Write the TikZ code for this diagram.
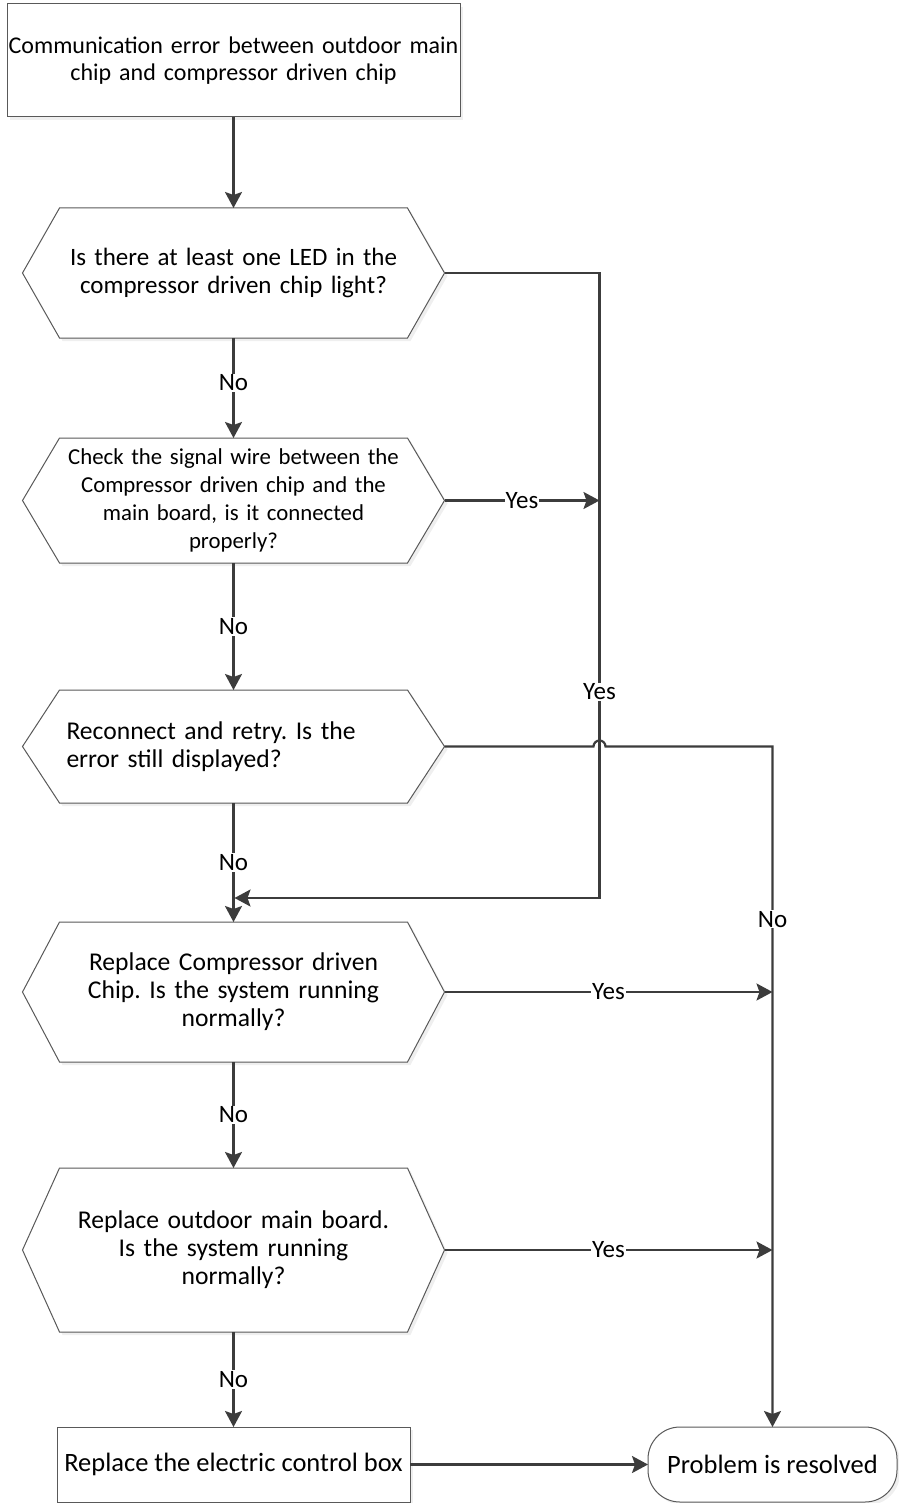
\documentclass[tikz,border=0pt]{standalone}
\usepackage{fontspec}
\setmainfont{Carlito}
\usetikzlibrary{arrows.meta, positioning, calc, backgrounds, shadows}
\definecolor{linegray}{HTML}{3C3C3C}
\definecolor{framegray}{HTML}{595959}
\frenchspacing
\newcommand{\flowfont}{\fontsize{25.6}{28}\selectfont\frenchspacing}
\newcommand{\bigflowfont}{\fontsize{26.5}{30}\selectfont\frenchspacing}
% hexagonal outline round a decision node
\newcommand{\hexframe}[1]{%
  \begin{scope}[on background layer]
    \draw[hexline] ([xshift=37pt]#1.north west) -- ([xshift=-37pt]#1.north east) -- (#1.east)
      -- ([xshift=-37pt]#1.south east) -- ([xshift=37pt]#1.south west) -- (#1.west) -- cycle;
  \end{scope}}

\begin{document}
\begin{tikzpicture}[
    x=1pt, y=-1pt,
    shade/.style={drop shadow={shadow xshift=3pt, shadow yshift=-3pt, fill=black!12}},
    startbox/.style={rectangle, draw=framegray, fill=white, line width=1pt, shade,
                  minimum width=453pt, minimum height=113pt, text width=452pt,
                  align=center, font=\fontsize{24}{26.5}\selectfont, inner sep=0pt, outer sep=0pt},
    hexbox/.style={rectangle, minimum width=422pt, text width=400pt,
                  align=center, font=\flowfont, inner sep=0pt, outer sep=0pt},
    hexline/.style={draw=framegray, fill=white, line width=1pt, shade},
    endbox/.style={rectangle, draw=framegray, fill=white, line width=1pt, shade,
                  minimum width=353pt, minimum height=75pt,
                  align=center, font=\bigflowfont, inner sep=0pt, outer sep=0pt},
    termbox/.style={rectangle, rounded corners=32pt, draw=framegray, fill=white, line width=1pt, shade,
                  minimum width=249pt, minimum height=75pt,
                  align=center, font=\bigflowfont, inner sep=0pt, outer sep=0pt},
    arrow/.style={-{Stealth[length=16pt, width=17pt, inset=3pt]}, line width=2.2pt, draw=linegray},
    lab/.style={fill=white, inner sep=1pt, font=\fontsize{25}{28}\selectfont}
]
    \useasboundingbox (0,0) rectangle (898,1503);

    \node[startbox] (err) at (233.5,60.5) {Communication error between outdoor main\\chip and compressor driven chip};
    \node[hexbox, minimum height=130pt, font=\fontsize{25}{28}\selectfont, below=91pt of err] (led) {Is there at least one LED in the\\compressor driven chip light?};
    \node[hexbox, minimum height=125pt, font=\fontsize{22.8}{28}\selectfont, below=100pt of led] (wire) {Check the signal wire between the\\Compressor driven chip and the\\main board, is it connected\\properly?};
    \node[hexbox, minimum height=113pt, text width=334pt, align=left, below=127pt of wire] (retry) {Reconnect and retry. Is the\\error still displayed?};
    \node[hexbox, minimum height=140pt, below=119pt of retry] (chip) {Replace Compressor driven\\Chip. Is the system running\\normally?};
    \node[hexbox, minimum height=164pt, below=106pt of chip] (board) {Replace outdoor main board.\\Is the system running\\normally?};
    \node[endbox, below=95pt of board] (ebox) {Replace the electric control box};
    \node[termbox, right=238pt of ebox] (done) {Problem is resolved};

    \hexframe{led}
    \hexframe{wire}
    \hexframe{retry}
    \hexframe{chip}
    \hexframe{board}

    \coordinate[right=155pt of led.east] (ledturn);
    \coordinate[above=24pt of chip.north] (merge);

    % main column
    \draw[arrow] (err) -- (led);
    \draw[arrow] (led) -- node[lab, pos=0.45] {No} (wire);
    \draw[arrow] (wire) -- node[lab] {No} (retry);
    \draw[arrow] (retry) -- node[lab] {No} (chip);
    \draw[arrow] (chip) -- node[lab] {No} (board);
    \draw[arrow] (board) -- node[lab] {No} (ebox);
    \draw[arrow] (ebox) -- (done);

    % yes branches back to the replace step
    \draw[arrow, shorten >=1pt] (led.east) -- (ledturn) |- node[lab, pos=0.335] {Yes} (merge);
    \draw[arrow] (wire.east) -- node[lab] {Yes} (wire.east -| ledturn);

    % branches to the end
    \draw[arrow] (retry.east) -- ([xshift=-6pt]retry.east -| ledturn)
        arc[start angle=180, end angle=0, radius=6pt]
        -- (retry.east -| done.north) -- node[lab, pos=0.254] {No} (done.north);
    \draw[arrow] (chip.east) -- node[lab] {Yes} (chip.east -| done.north);
    \draw[arrow] (board.east) -- node[lab] {Yes} (board.east -| done.north);
\end{tikzpicture}
\end{document}
